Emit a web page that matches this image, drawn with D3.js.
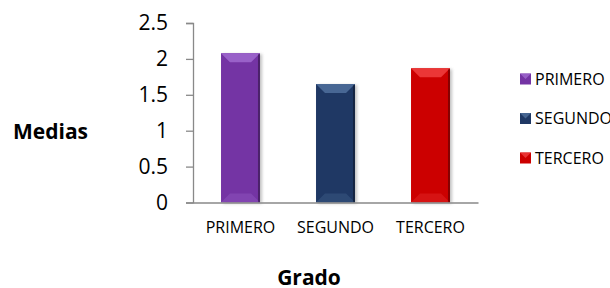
<!DOCTYPE html>
<html>
<head>
<meta charset="utf-8">
<script src="https://cdn.jsdelivr.net/npm/d3@7"></script>
<style>
  body { margin: 0; background: #fff; }
  svg { display: block; font-family: "Open Sans", sans-serif; }
</style>
</head>
<body>
<div id="chart"></div>
<script>
// data
var categories = ["PRIMERO", "SEGUNDO", "TERCERO"];
var medias = [2.08, 1.65, 1.87];
var yTicks = [0, 0.5, 1, 1.5, 2, 2.5];
var barColors = ["#7434a4", "#1f3864", "#cc0000"];
var lightColors = ["#a06ad0", "#50709c", "#f04040"];

var width = 610, height = 288;
var plotLeft = 193, plotRight = 478, plotTop = 23, plotBottom = 202.5;

var svg = d3.select("#chart").append("svg")
    .attr("width", width)
    .attr("height", height);

var defs = svg.append("defs");
defs.append("filter").attr("id", "shadow")
    .attr("x", "-30%").attr("y", "-10%").attr("width", "160%").attr("height", "120%")
    .append("feGaussianBlur").attr("stdDeviation", 1.5);

//scales
var x = d3.scaleBand()
    .domain(categories)
    .range([plotLeft, plotRight])
    .paddingInner(0.59)
    .paddingOuter(0.295);

var y = d3.scaleLinear()
    .domain([0, 2.5])
    .range([plotBottom, plotTop]);

//y axis
var yAxis = svg.append("g")
    .attr("transform", "translate(" + plotLeft + ",0)")
    .call(d3.axisLeft(y).tickValues(yTicks).tickSize(7).tickPadding(18).tickFormat(d3.format("~g")));
yAxis.select(".domain").attr("stroke", "#898989").attr("stroke-width", 1.3);
yAxis.selectAll(".tick line").attr("stroke", "#898989").attr("stroke-width", 1.3);
yAxis.selectAll(".tick text")
    .attr("fill", "#000")
    .style("font-size", "21px")
    .style("font-family", "Open Sans");

//bars
var bars = svg.append("g").selectAll("g")
    .data(categories)
    .enter().append("g");

var bw = x.bandwidth();
var bev = 9;

bars.append("rect")
    .attr("x", d => x(d) + 2)
    .attr("y", (d, i) => y(medias[i]) + 1)
    .attr("width", bw)
    .attr("height", (d, i) => y(0) - y(medias[i]))
    .attr("fill", "#999")
    .attr("opacity", 0.6)
    .attr("filter", "url(#shadow)");

bars.append("rect")
    .attr("x", d => x(d))
    .attr("y", (d, i) => y(medias[i]))
    .attr("width", bw)
    .attr("height", (d, i) => y(0) - y(medias[i]))
    .attr("fill", (d, i) => barColors[i]);

//top facet
bars.append("polygon")
    .attr("points", function(d, i) {
        var x0 = x(d), y0 = y(medias[i]);
        return [[x0, y0], [x0 + bw, y0], [x0 + bw - bev, y0 + bev], [x0 + bev, y0 + bev]].join(" ");
    })
    .attr("fill", (d, i) => lightColors[i])
    .attr("opacity", 0.85);

//bottom facet
bars.append("polygon")
    .attr("points", function(d, i) {
        var x0 = x(d), y0 = y(0);
        return [[x0, y0], [x0 + bw, y0], [x0 + bw - bev, y0 - bev], [x0 + bev, y0 - bev]].join(" ");
    })
    .attr("fill", (d, i) => lightColors[i])
    .attr("opacity", 0.3);

//dark right edge
bars.append("rect")
    .attr("x", d => x(d) + bw - 2)
    .attr("y", (d, i) => y(medias[i]) + 1)
    .attr("width", 2)
    .attr("height", (d, i) => y(0) - y(medias[i]) - 1)
    .attr("fill", "#000")
    .attr("opacity", 0.35);

//x axis
var xAxis = svg.append("g")
    .attr("transform", "translate(0," + plotBottom + ")")
    .call(d3.axisBottom(x).tickSize(0).tickPadding(0));
xAxis.select(".domain").attr("stroke", "#898989").attr("stroke-width", 1.3);
xAxis.selectAll(".tick text")
    .attr("y", 30)
    .attr("dy", 0)
    .attr("fill", "#000")
    .style("font-size", "16px")
    .style("font-family", "Open Sans");

//axis titles
svg.append("text")
    .attr("x", 13)
    .attr("y", 139)
    .style("font-size", "21px")
    .style("font-weight", "bold")
    .text("Medias");

svg.append("text")
    .attr("x", 309)
    .attr("y", 285)
    .style("text-anchor", "middle")
    .style("font-size", "21px")
    .style("font-weight", "bold")
    .text("Grado");

//legend
var legend = svg.append("g").selectAll("g")
    .data(categories)
    .enter().append("g")
    .attr("transform", (d, i) => "translate(520," + (79 + i * 39.5) + ")");

legend.append("rect")
    .attr("x", 0)
    .attr("y", -5.5)
    .attr("width", 11)
    .attr("height", 11)
    .attr("fill", (d, i) => barColors[i]);

legend.append("polygon")
    .attr("points", "0,-5.5 11,-5.5 5.5,0")
    .attr("fill", (d, i) => lightColors[i])
    .attr("opacity", 0.8);

legend.append("text")
    .attr("x", 15)
    .attr("y", 0)
    .attr("dy", "0.36em")
    .style("font-size", "16px")
    .text(d => d);
</script>
</body>
</html>
